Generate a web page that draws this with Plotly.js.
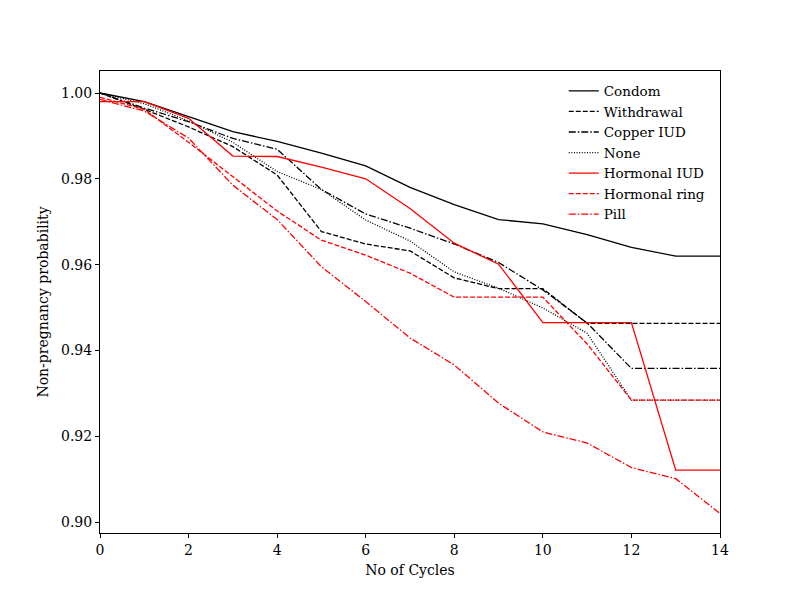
<!DOCTYPE html>
<html>
<head>
<meta charset="utf-8">
<script src="https://cdn.plot.ly/plotly-3.0.1.min.js"></script>
<style>html,body{margin:0;padding:0;background:#fff;}#chart{width:800px;height:600px;}</style>
</head>
<body>
<div id="chart"></div>
<script>
const cycles = [0,1,2,3,4,5,6,7,8,9,10,11,12,13,14];
const condom       = [1.000,0.998,0.9945,0.991,0.9887,0.986,0.983,0.978,0.974,0.9705,0.9695,0.967,0.964,0.962,0.962];
const withdrawal   = [1.000,0.9962,0.9921,0.9875,0.9809,0.9677,0.9648,0.9632,0.9569,0.9544,0.9544,0.9463,0.9463,0.9463,0.9463];
const copperIUD    = [1.000,0.9965,0.9933,0.9894,0.9869,0.9775,0.9718,0.9685,0.9648,0.9605,0.9541,0.9464,0.9358,0.9358,0.9358];
const none         = [1.000,0.9975,0.9935,0.9885,0.9817,0.9775,0.9704,0.9655,0.9583,0.9545,0.9499,0.9440,0.9284,0.9284,0.9284];
const hormonalIUD  = [0.998,0.998,0.9941,0.9853,0.9852,0.9827,0.980,0.9731,0.965,0.9601,0.9465,0.9465,0.9465,0.9121,0.9121];
const hormonalRing = [0.999,0.9962,0.9885,0.9805,0.9725,0.9657,0.9622,0.958,0.9524,0.9524,0.9524,0.9415,0.9284,0.9284,0.9284];
const pill         = [0.9985,0.9958,0.9895,0.9785,0.9705,0.9595,0.9514,0.9429,0.9366,0.9277,0.921,0.9184,0.9127,0.9101,0.902];

const names = ["Condom","Withdrawal","Copper IUD","None","Hormonal IUD","Hormonal ring","Pill"];
const series = [condom, withdrawal, copperIUD, none, hormonalIUD, hormonalRing, pill];
const colors = ["#000000","#000000","#000000","#000000","#ff0000","#ff0000","#ff0000"];
const dashes = ["solid","5px,2px","7px,2px,1.5px,2px","1px,1.6px","solid","5px,2px","7px,2px,1.5px,2px"];

const traces = series.map((s,i)=>({
  x: cycles, y: s, name: names[i], type: 'scatter', mode: 'lines',
  line: {color: colors[i], width: 1.3, dash: dashes[i]}
}));

const fam = 'DejaVu Serif';
const font = {family: fam, size: 14, color: '#000'};
const layout = {
  width: 800, height: 600,
  margin: {l: 100, r: 80, t: 71, b: 67, pad: 0},
  paper_bgcolor: '#fff', plot_bgcolor: '#fff',
  font: font,
  showlegend: true,
  legend: {x: 0.748, y: 0.99, xanchor: 'left', yanchor: 'top', bgcolor: 'rgba(0,0,0,0)',
           font: {family: fam, size: 13.5, color: '#000'}, tracegroupgap: 0, itemwidth: 30},
  xaxis: {
    range: [0, 14], tickmode: 'array', tickvals: [0,2,4,6,8,10,12,14],
    showgrid: false, zeroline: false, showline: true, mirror: true,
    linecolor: '#000', linewidth: 1, ticks: 'outside', ticklen: 4, tickcolor: '#000',
    tickfont: font,
    title: {text: 'No of Cycles', font: font, standoff: 8}
  },
  yaxis: {
    range: [0.89744, 1.00513], tickmode: 'array', tickvals: [0.90,0.92,0.94,0.96,0.98,1.00],
    tickformat: '.2f',
    showgrid: false, zeroline: false, showline: true, mirror: true,
    linecolor: '#000', linewidth: 1, ticks: 'outside', ticklen: 4, tickcolor: '#000',
    tickfont: font,
    title: {text: 'Non-pregnancy probability', font: font, standoff: 9}
  }
};
Plotly.newPlot('chart', traces, layout, {displayModeBar: false, staticPlot: true});
</script>
</body>
</html>
